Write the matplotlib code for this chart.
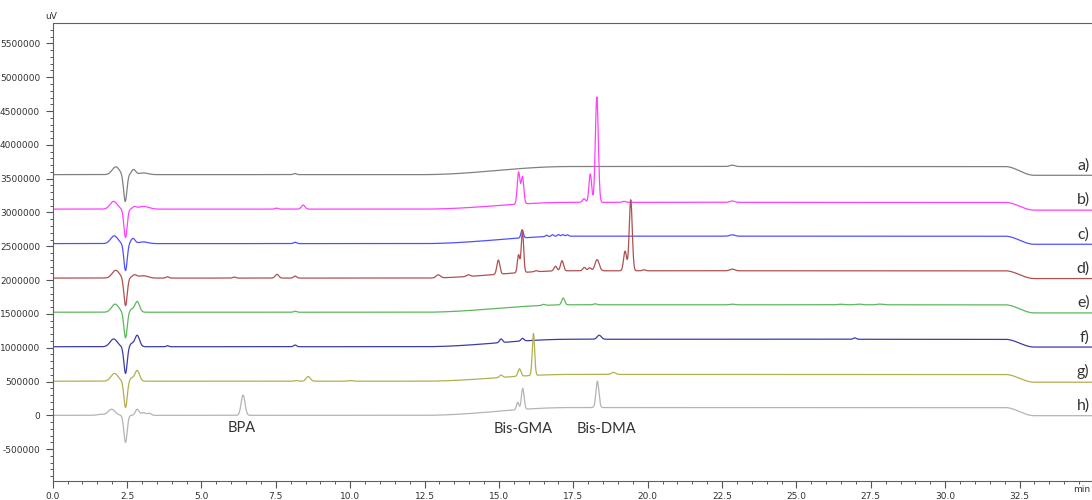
import numpy as np
import matplotlib
matplotlib.use("Agg")
import matplotlib.pyplot as plt
from matplotlib.ticker import MultipleLocator, FormatStrFormatter

# traces from top to bottom
labels = ["a)", "b)", "c)", "d)", "e)", "f)", "g)", "h)"]
baselines = [3560000, 3050000, 2540000, 2030000, 1525000, 1015000, 505000, 0]

# baseline drift during the gradient, and the drop at the end of the run (uV)
drift_rise = [120000, 100000, 110000, 108000, 110000, 110000, 100000, 115000]
drift_drop = [130000, 115000, 120000, 115000, 120000, 115000, 115000, 120000]
rise_window = (12.4, 17.4)   # min
drop_window = (32.0, 33.0)   # min

# peaks: (retention time [min], height [uV], width [min])
peaks_a = [(2.12, 115000, 0.12), (2.44, -400000, 0.055), (2.72, 75000, 0.07),
           (3.05, 25000, 0.15), (8.14, 15000, 0.05), (22.84, 20000, 0.08)]
peaks_b = [(2.05, 115000, 0.12), (2.45, -420000, 0.055), (2.75, 30000, 0.06),
           (3.05, 40000, 0.18), (7.52, 15000, 0.05), (8.42, 60000, 0.06),
           (15.66, 470000, 0.045), (15.79, 400000, 0.045), (17.86, 55000, 0.05),
           (18.07, 420000, 0.045), (18.29, 1560000, 0.05), (19.2, 15000, 0.06),
           (22.84, 20000, 0.08)]
peaks_c = [(2.07, 115000, 0.12), (2.45, -400000, 0.055), (2.70, 75000, 0.07),
           (3.05, 25000, 0.15), (8.15, 20000, 0.05), (15.78, 120000, 0.04),
           (16.6, 20000, 0.04), (16.8, 25000, 0.04), (17.0, 25000, 0.04),
           (17.15, 25000, 0.04), (17.3, 20000, 0.04), (22.84, 20000, 0.08)]
peaks_d = [(2.12, 115000, 0.12), (2.45, -410000, 0.055), (2.75, 45000, 0.08),
           (3.05, 35000, 0.15), (3.86, 20000, 0.05), (6.1, 15000, 0.05),
           (7.54, 55000, 0.06), (8.15, 30000, 0.05), (12.96, 45000, 0.07),
           (13.97, 25000, 0.06), (14.98, 210000, 0.05), (15.66, 265000, 0.04),
           (15.79, 620000, 0.04), (16.25, 15000, 0.05), (16.9, 70000, 0.05),
           (17.12, 150000, 0.05), (17.87, 50000, 0.05), (18.05, 45000, 0.05),
           (18.3, 165000, 0.07), (19.24, 290000, 0.05), (19.43, 1050000, 0.05),
           (19.87, 15000, 0.05), (22.84, 25000, 0.08)]
peaks_e = [(2.1, 120000, 0.12), (2.45, -380000, 0.055), (2.65, 40000, 0.06),
           (2.84, 160000, 0.08), (8.15, 15000, 0.05), (16.5, 15000, 0.05),
           (17.16, 100000, 0.05), (18.23, 15000, 0.05), (22.84, 10000, 0.08),
           (26.5, 8000, 0.1), (27.1, 10000, 0.1), (27.8, 10000, 0.1)]
peaks_f = [(2.05, 115000, 0.12), (2.45, -395000, 0.055), (2.65, 40000, 0.06),
           (2.84, 170000, 0.08), (3.86, 15000, 0.04), (8.15, 25000, 0.05),
           (15.07, 55000, 0.05), (15.79, 40000, 0.05), (18.37, 60000, 0.07),
           (26.96, 20000, 0.05)]
peaks_g = [(2.08, 115000, 0.12), (2.45, -390000, 0.055), (2.65, 40000, 0.06),
           (2.84, 160000, 0.08), (8.2, 10000, 0.05), (8.59, 70000, 0.07),
           (10.0, 10000, 0.08), (15.07, 35000, 0.05), (15.69, 110000, 0.05),
           (16.16, 620000, 0.04), (18.85, 30000, 0.07)]
peaks_h = [(1.6, 15000, 0.1), (1.98, 90000, 0.12), (2.45, -400000, 0.055),
           (2.84, 90000, 0.06), (3.05, 40000, 0.08), (3.25, 30000, 0.06),
           (6.40, 300000, 0.065), (15.63, 110000, 0.04), (15.80, 310000, 0.045),
           (18.31, 390000, 0.05)]
all_peaks = [peaks_a, peaks_b, peaks_c, peaks_d, peaks_e, peaks_f, peaks_g, peaks_h]

# compound labels: (text, time, level)
compounds = [("BPA", 6.36, -180000), ("Bis-GMA", 15.8, -195000), ("Bis-DMA", 18.6, -195000)]

colors = ["#808080", "#ff40ff", "#5050ff", "#b05050", "#5cb85c", "#3c3ca8", "#b0b050", "#b4b4b4"]


def ramp(t, window):
    t0, t1 = window
    s = np.clip((t - t0) / (t1 - t0), 0, 1)
    return 0.5 - 0.5 * np.cos(np.pi * s)


def trace(t, base, rise, drop, peaks):
    y = base + rise * ramp(t, rise_window) - drop * ramp(t, drop_window)
    for rt, h, w in peaks:
        y = y + h * np.exp(-0.5 * ((t - rt) / w) ** 2)
    return y


t = np.linspace(0, 35, 7001)

fig = plt.figure(figsize=(10.92, 5.0), dpi=100)
ax = fig.add_axes([0.0482, 0.038, 0.952, 0.915])

for i in range(len(labels)):
    y = trace(t, baselines[i], drift_rise[i], drift_drop[i], all_peaks[i])
    ax.plot(t, y, color=colors[i], lw=0.9)
    ax.text(34.85, baselines[i] + 140000, labels[i], ha="right", va="center",
            fontsize=11.5, family="Lato", color="#333333")

for name, x, yv in compounds:
    ax.text(x, yv, name, ha="center", va="center", fontsize=10.5,
            family="Lato", color="#333333")

ax.set_xlim(0, 34.94)
ax.set_ylim(-971000, 5795000)

ax.xaxis.set_major_locator(MultipleLocator(2.5))
ax.xaxis.set_minor_locator(MultipleLocator(0.5))
ax.xaxis.set_major_formatter(FormatStrFormatter("%.1f"))
ax.yaxis.set_major_locator(MultipleLocator(500000))
ax.yaxis.set_minor_locator(MultipleLocator(100000))
ax.yaxis.set_major_formatter(FormatStrFormatter("%d"))

ax.tick_params(which="major", direction="out", length=5, width=0.8, color="#555555",
               labelsize=6.5, labelcolor="#333333")
ax.tick_params(which="minor", direction="out", length=2.5, width=0.7, color="#555555")
ax.tick_params(axis="y", pad=4)
ax.tick_params(axis="x", pad=3)

ax.spines["right"].set_visible(False)
for s in ["left", "top", "bottom"]:
    ax.spines[s].set_color("#606060")
    ax.spines[s].set_linewidth(0.8)

fig.text(0.0465, 0.958, "uV", ha="center", va="bottom", fontsize=6.5, color="#333333")
fig.text(0.998, 0.012, "min", ha="right", va="bottom", fontsize=6.5, color="#333333")

fig.savefig("out.png", dpi=100)
